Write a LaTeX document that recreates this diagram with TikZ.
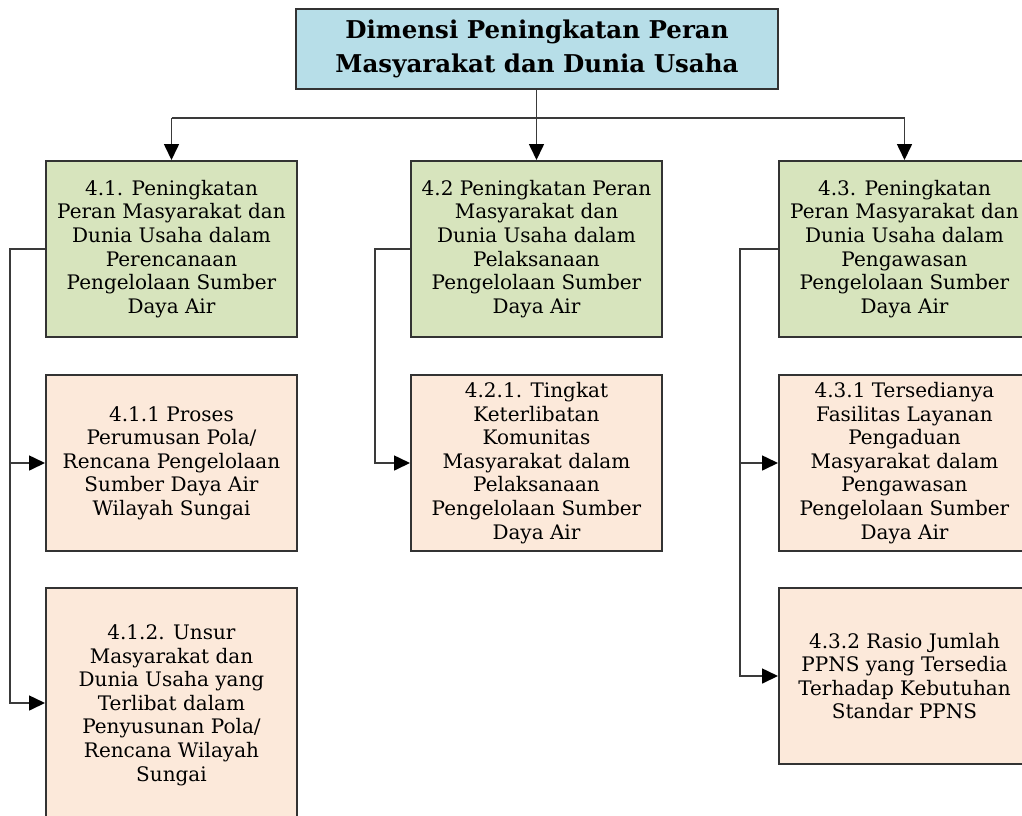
\documentclass[tikz,border=0pt]{standalone}
\usepackage{fontspec}
\setmainfont{DejaVu Serif}
\usetikzlibrary{arrows.meta,calc}
\definecolor{topblue}{HTML}{B7DEE8}
\definecolor{lvlgreen}{HTML}{D7E4BD}
\definecolor{leafpeach}{HTML}{FCE9DA}
\definecolor{boxedge}{HTML}{333333}
\definecolor{linegray}{HTML}{3A3A3A}
\begin{document}
\begin{tikzpicture}[x=1pt,y=-1pt,
  box/.style={draw=boxedge, line width=2pt, align=center, inner sep=0pt, anchor=north west,
    font=\fontsize{20}{23.6}\selectfont, minimum width=251pt, minimum height=176pt},
  topbox/.style={box, fill=topblue, minimum width=482pt, minimum height=80pt,
    font=\bfseries\fontsize{24.5}{34}\selectfont},
  lvlbox/.style={box, fill=lvlgreen},
  leafbox/.style={box, fill=leafpeach},
  conn/.style={draw=linegray, line width=1.6pt},
  arr/.style={conn, -{Triangle[length=16pt,width=15pt,fill=black,color=black]}}
]
\clip (0,0) rectangle (1022,815);
\fill[white] (0,0) rectangle (1022,815);
\coordinate (ax) at (10,0);
\coordinate (bx) at (375,0);
\coordinate (cx) at (740,0);

\node[topbox] (top) at (295,8) {Dimensi Peningkatan Peran\\Masyarakat dan Dunia Usaha};

\node[lvlbox] (a) at (45,160) {4.1. Peningkatan\\Peran Masyarakat dan\\Dunia Usaha dalam\\Perencanaan\\Pengelolaan Sumber\\Daya Air};
\node[lvlbox] (b) at (410,160) {4.2 Peningkatan Peran\\Masyarakat dan\\Dunia Usaha dalam\\Pelaksanaan\\Pengelolaan Sumber\\Daya Air};
\node[lvlbox] (c) at (778,160) {4.3. Peningkatan\\Peran Masyarakat dan\\Dunia Usaha dalam\\Pengawasan\\Pengelolaan Sumber\\Daya Air};

\node[leafbox] (a1) at (45,374) {4.1.1 Proses\\Perumusan Pola/\\Rencana Pengelolaan\\Sumber Daya Air\\Wilayah Sungai};
\node[leafbox, minimum height=234pt] (a2) at (45,587) {4.1.2. Unsur\\Masyarakat dan\\Dunia Usaha yang\\Terlibat dalam\\Penyusunan Pola/\\Rencana Wilayah\\Sungai};
\node[leafbox] (b1) at (410,374) {4.2.1. Tingkat\\Keterlibatan\\Komunitas\\Masyarakat dalam\\Pelaksanaan\\Pengelolaan Sumber\\Daya Air};
\node[leafbox] (c1) at (778,374) {4.3.1 Tersedianya\\Fasilitas Layanan\\Pengaduan\\Masyarakat dalam\\Pengawasan\\Pengelolaan Sumber\\Daya Air};
\node[leafbox] (c2) at (778,587) {4.3.2 Rasio Jumlah\\PPNS yang Tersedia\\Terhadap Kebutuhan\\Standar PPNS};

\coordinate (j) at ($(b.north)+(0,-42)$);
\draw[conn] (b.north |- top.south) -- (j);
\draw[conn] (a.north |- j) -- (c.north |- j);
\draw[arr] (a.north |- j) -- (a.north);
\draw[arr] (j) -- (b.north);
\draw[arr] (c.north |- j) -- (c.north);

\draw[arr] (a.west) -- (ax |- a.west) -- (ax |- 703,703) -- (a2.west |- 703,703);
\draw[arr] (ax |- a1.west) -- (a1.west);
\draw[arr] (b.west) -- (bx |- b.west) -- (bx |- b1.west) -- (b1.west);
\draw[arr] (c.west) -- (cx |- c.west) -- (cx |- c2.west) -- (c2.west);
\draw[arr] (cx |- c1.west) -- (c1.west);
\end{tikzpicture}
\end{document}
